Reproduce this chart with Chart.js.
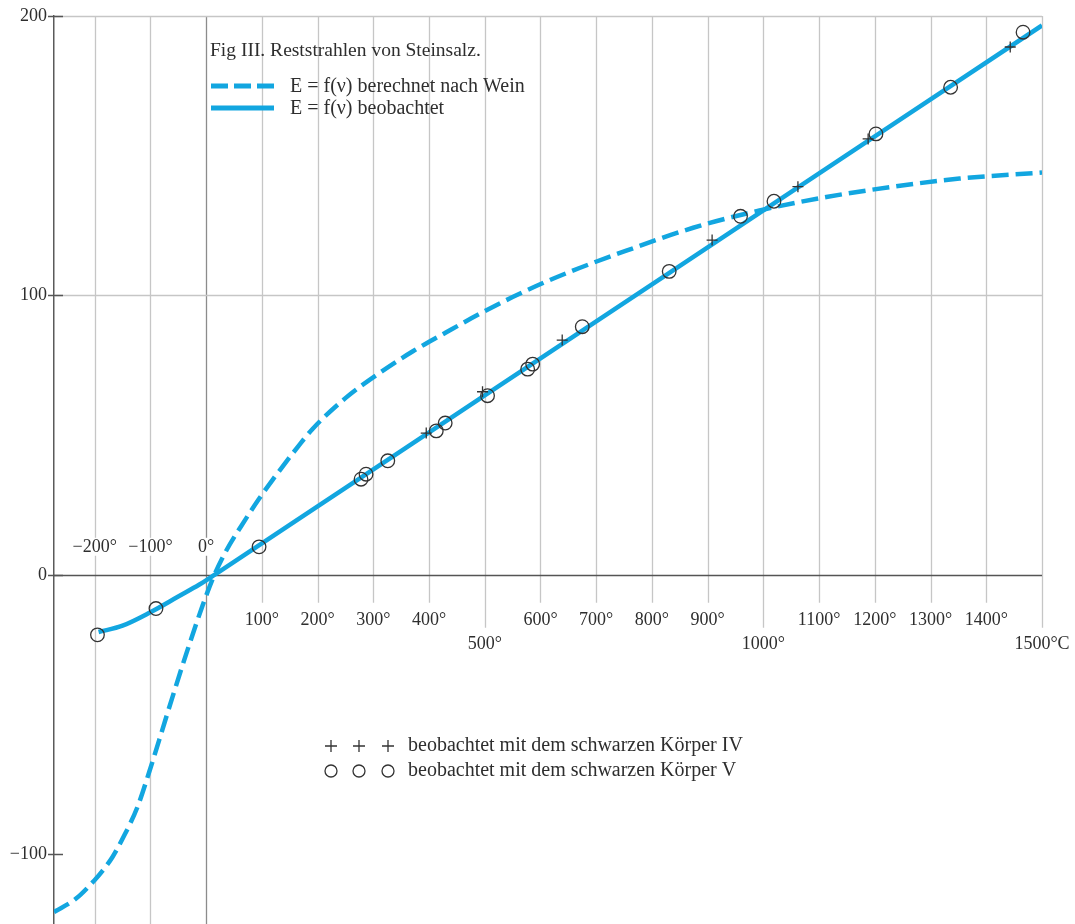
<!DOCTYPE html>
<html>
<head>
<meta charset="utf-8">
<title>Fig III. Reststrahlen von Steinsalz</title>
<script src="https://cdn.jsdelivr.net/npm/chart.js@4.4.1/dist/chart.umd.min.js"></script>
<style>
  html, body { margin: 0; padding: 0; background: #fff; }
  #chart { display: block; }
</style>
</head>
<body>
<canvas id="chart" width="1075" height="924"></canvas>
<script>
// values: temperature in degrees C, energy E
var wienT = [-273, -234, -201, -186, -168, -150, -123, -102, -84, -60, -36, -6.5, 11.5, 32.5, 71.5, 95, 119, 167, 191, 251, 311, 371, 431, 490, 550, 610, 670, 754, 874, 993, 1113, 1233, 1352, 1500];
var wienE = [-120.7, -116, -109.5, -106, -101, -94.5, -83, -70.5, -59, -43.5, -28.5, -11.1, -1.6, 7.3, 20.1, 27.2, 33.9, 46.4, 52.2, 63.4, 72.2, 80, 86.8, 93.3, 99.4, 104.9, 109.8, 116, 124.2, 130.4, 135.2, 138.9, 141.8, 144];

var obsT = [-193, -150, -100, -50, -12, 0, 15, 200, 500, 1000, 1500];
var obsE = [-20.5, -18.2, -13.4, -7.8, -3.5, -2.0, 0, 24.5, 64.2, 130.4, 196.6];

// beobachtet mit dem schwarzen Koerper IV (+)
var bodyIVT = [395, 496, 639, 908, 1062, 1188, 1443];
var bodyIVE = [50.7, 65.5, 84.0, 119.8, 138.9, 156, 188.9];

// beobachtet mit dem schwarzen Koerper V (o)
var bodyVT = [-195, -90, 95, 278, 287, 326, 413, 429, 505, 577, 586, 675, 831, 959, 1019, 1202, 1336, 1466];
var bodyVE = [-21.5, -12.1, 10.0, 34.2, 36.0, 40.8, 51.5, 54.3, 64.1, 73.6, 75.4, 88.8, 108.6, 128.3, 133.7, 157.8, 174.5, 194.2];

var xTickValues = [-200, -100, 0, 100, 200, 300, 400, 500, 600, 700, 800, 900, 1000, 1100, 1200, 1300, 1400, 1500];
var xTickLabels = ['\u2212200\u00b0', '\u2212100\u00b0', '0\u00b0', '100\u00b0', '200\u00b0', '300\u00b0', '400\u00b0', '500\u00b0', '600\u00b0', '700\u00b0', '800\u00b0', '900\u00b0', '1000\u00b0', '1100\u00b0', '1200\u00b0', '1300\u00b0', '1400\u00b0', '1500\u00b0C'];
var yTickValues = [-100, 0, 100, 200];

var figTitle = 'Fig III. Reststrahlen von Steinsalz.';
var markerLabels = ['beobachtet mit dem schwarzen K\u00f6rper IV', 'beobachtet mit dem schwarzen K\u00f6rper V'];

var SERIF = '"Liberation Serif", "DejaVu Serif", serif';
var FONT = '18px ' + SERIF;
var KEYFONT = '20px ' + SERIF;
var INK = '#2e2e2e';
var BLUE = '#12a6e0';

function pairs(xs, ys) {
  return xs.map(function (v, i) { return { x: v, y: ys[i] }; });
}

var paperGrid = {
  id: 'paperGrid',
  beforeDatasetsDraw: function (chart) {
    var ctx = chart.ctx, a = chart.chartArea, x = chart.scales.x, y = chart.scales.y;
    var y0 = y.getPixelForValue(0);
    ctx.save();
    ctx.lineWidth = 1.3;

    // vertical lines
    xTickValues.forEach(function (v) {
      var px = Math.round(x.getPixelForValue(v)) + 0.5;
      var bottom = v <= 0 ? a.bottom : (v % 500 === 0 ? y0 + 53 : y0 + 28);
      ctx.strokeStyle = v === 0 ? '#8c8c8c' : '#c6c6c6';
      ctx.beginPath();
      ctx.moveTo(px, a.top);
      ctx.lineTo(px, bottom);
      ctx.stroke();
    });

    // horizontal lines at 100 and 200
    ctx.strokeStyle = '#c6c6c6';
    [100, 200].forEach(function (v) {
      var py = Math.round(y.getPixelForValue(v)) + 0.5;
      ctx.beginPath();
      ctx.moveTo(a.left, py);
      ctx.lineTo(a.right, py);
      ctx.stroke();
    });

    // zero line
    ctx.strokeStyle = '#555';
    ctx.lineWidth = 1.5;
    ctx.beginPath();
    ctx.moveTo(a.left, Math.round(y0) + 0.5);
    ctx.lineTo(a.right, Math.round(y0) + 0.5);
    ctx.stroke();

    // y tick marks crossing the axis
    yTickValues.forEach(function (v) {
      var py = Math.round(y.getPixelForValue(v)) + 0.5;
      ctx.beginPath();
      ctx.moveTo(a.left - 6, py);
      ctx.lineTo(a.left + 9, py);
      ctx.stroke();
    });

    // x labels
    ctx.font = FONT;
    ctx.textAlign = 'center';
    ctx.textBaseline = 'middle';
    xTickValues.forEach(function (v, i) {
      var px = x.getPixelForValue(v);
      var py = v <= 0 ? y0 - 28 : (v % 500 === 0 ? y0 + 69 : y0 + 45);
      var w = ctx.measureText(xTickLabels[i]).width;
      ctx.fillStyle = '#fff';
      ctx.fillRect(px - w / 2 - 2, py - 9, w + 4, 18);
      ctx.fillStyle = INK;
      ctx.fillText(xTickLabels[i], px, py);
    });
    ctx.restore();
  }
};

var paperLegend = {
  id: 'paperLegend',
  afterDraw: function (chart) {
    var ctx = chart.ctx, ds = chart.data.datasets;
    ctx.save();
    ctx.fillStyle = INK;
    ctx.textAlign = 'left';
    ctx.textBaseline = 'middle';
    ctx.font = '19.5px ' + SERIF;
    ctx.fillText(figTitle, 210, 51);

    ctx.font = KEYFONT;
    [0, 1].forEach(function (i) {
      var yy = i === 0 ? 86 : 108;
      ctx.strokeStyle = ds[i].borderColor;
      ctx.lineWidth = 5;
      ctx.setLineDash(i === 0 ? [17, 6] : []);
      ctx.beginPath();
      ctx.moveTo(211, yy);
      ctx.lineTo(274, yy);
      ctx.stroke();
      ctx.setLineDash([]);
      ctx.fillText(ds[i].label, 290, yy + 1);
    });

    // marker key below the curves
    ctx.strokeStyle = '#333';
    ctx.lineWidth = 1.3;
    [331, 359, 388].forEach(function (mx) {
      ctx.beginPath();
      ctx.moveTo(mx - 6, 746); ctx.lineTo(mx + 6, 746);
      ctx.moveTo(mx, 740); ctx.lineTo(mx, 752);
      ctx.stroke();
      ctx.beginPath();
      ctx.arc(mx, 771, 6, 0, Math.PI * 2);
      ctx.stroke();
    });
    ctx.fillText(markerLabels[0], 408, 746);
    ctx.fillText(markerLabels[1], 408, 771);
    ctx.restore();
  }
};

new Chart(document.getElementById('chart'), {
  type: 'scatter',
  data: {
    datasets: [
      {
        label: 'E = f(\u03bd) berechnet nach Wein',
        data: pairs(wienT, wienE),
        showLine: true,
        borderColor: BLUE,
        borderWidth: 4.5,
        borderDash: [17, 7],
        pointRadius: 0,
        cubicInterpolationMode: 'monotone',
        order: 2
      },
      {
        label: 'E = f(\u03bd) beobachtet',
        data: pairs(obsT, obsE),
        showLine: true,
        borderColor: BLUE,
        borderWidth: 4.5,
        pointRadius: 0,
        cubicInterpolationMode: 'monotone',
        order: 2
      },
      {
        label: markerLabels[0],
        data: pairs(bodyIVT, bodyIVE),
        pointStyle: 'cross',
        pointRadius: 5.5,
        pointBorderWidth: 1.3,
        borderColor: '#333',
        backgroundColor: 'rgba(0,0,0,0)',
        order: 1
      },
      {
        label: markerLabels[1],
        data: pairs(bodyVT, bodyVE),
        pointStyle: 'circle',
        pointRadius: 6.8,
        pointBorderWidth: 1.3,
        borderColor: '#333',
        backgroundColor: 'rgba(0,0,0,0)',
        order: 1
      }
    ]
  },
  options: {
    responsive: false,
    animation: false,
    devicePixelRatio: 1,
    layout: { autoPadding: false, padding: { top: 16, right: 33, bottom: 0, left: 0 } },
    plugins: { legend: { display: false }, tooltip: { enabled: false } },
    scales: {
      x: { type: 'linear', min: -273, max: 1500, display: false },
      y: {
        type: 'linear',
        min: -125,
        max: 200,
        afterBuildTicks: function (s) { s.ticks = yTickValues.map(function (v) { return { value: v }; }); },
        afterFit: function (s) { s.width = 54; s.paddingTop = 0; s.paddingBottom = 0; },
        grid: { display: false, drawTicks: false },
        border: { display: true, color: '#5a5a5a', width: 1.5 },
        ticks: {
          padding: 7,
          color: INK,
          font: { family: SERIF, size: 18 },
          callback: function (v) { return v < 0 ? '\u2212' + (-v) : String(v); }
        }
      }
    }
  },
  plugins: [paperGrid, paperLegend]
});
</script>
</body>
</html>
